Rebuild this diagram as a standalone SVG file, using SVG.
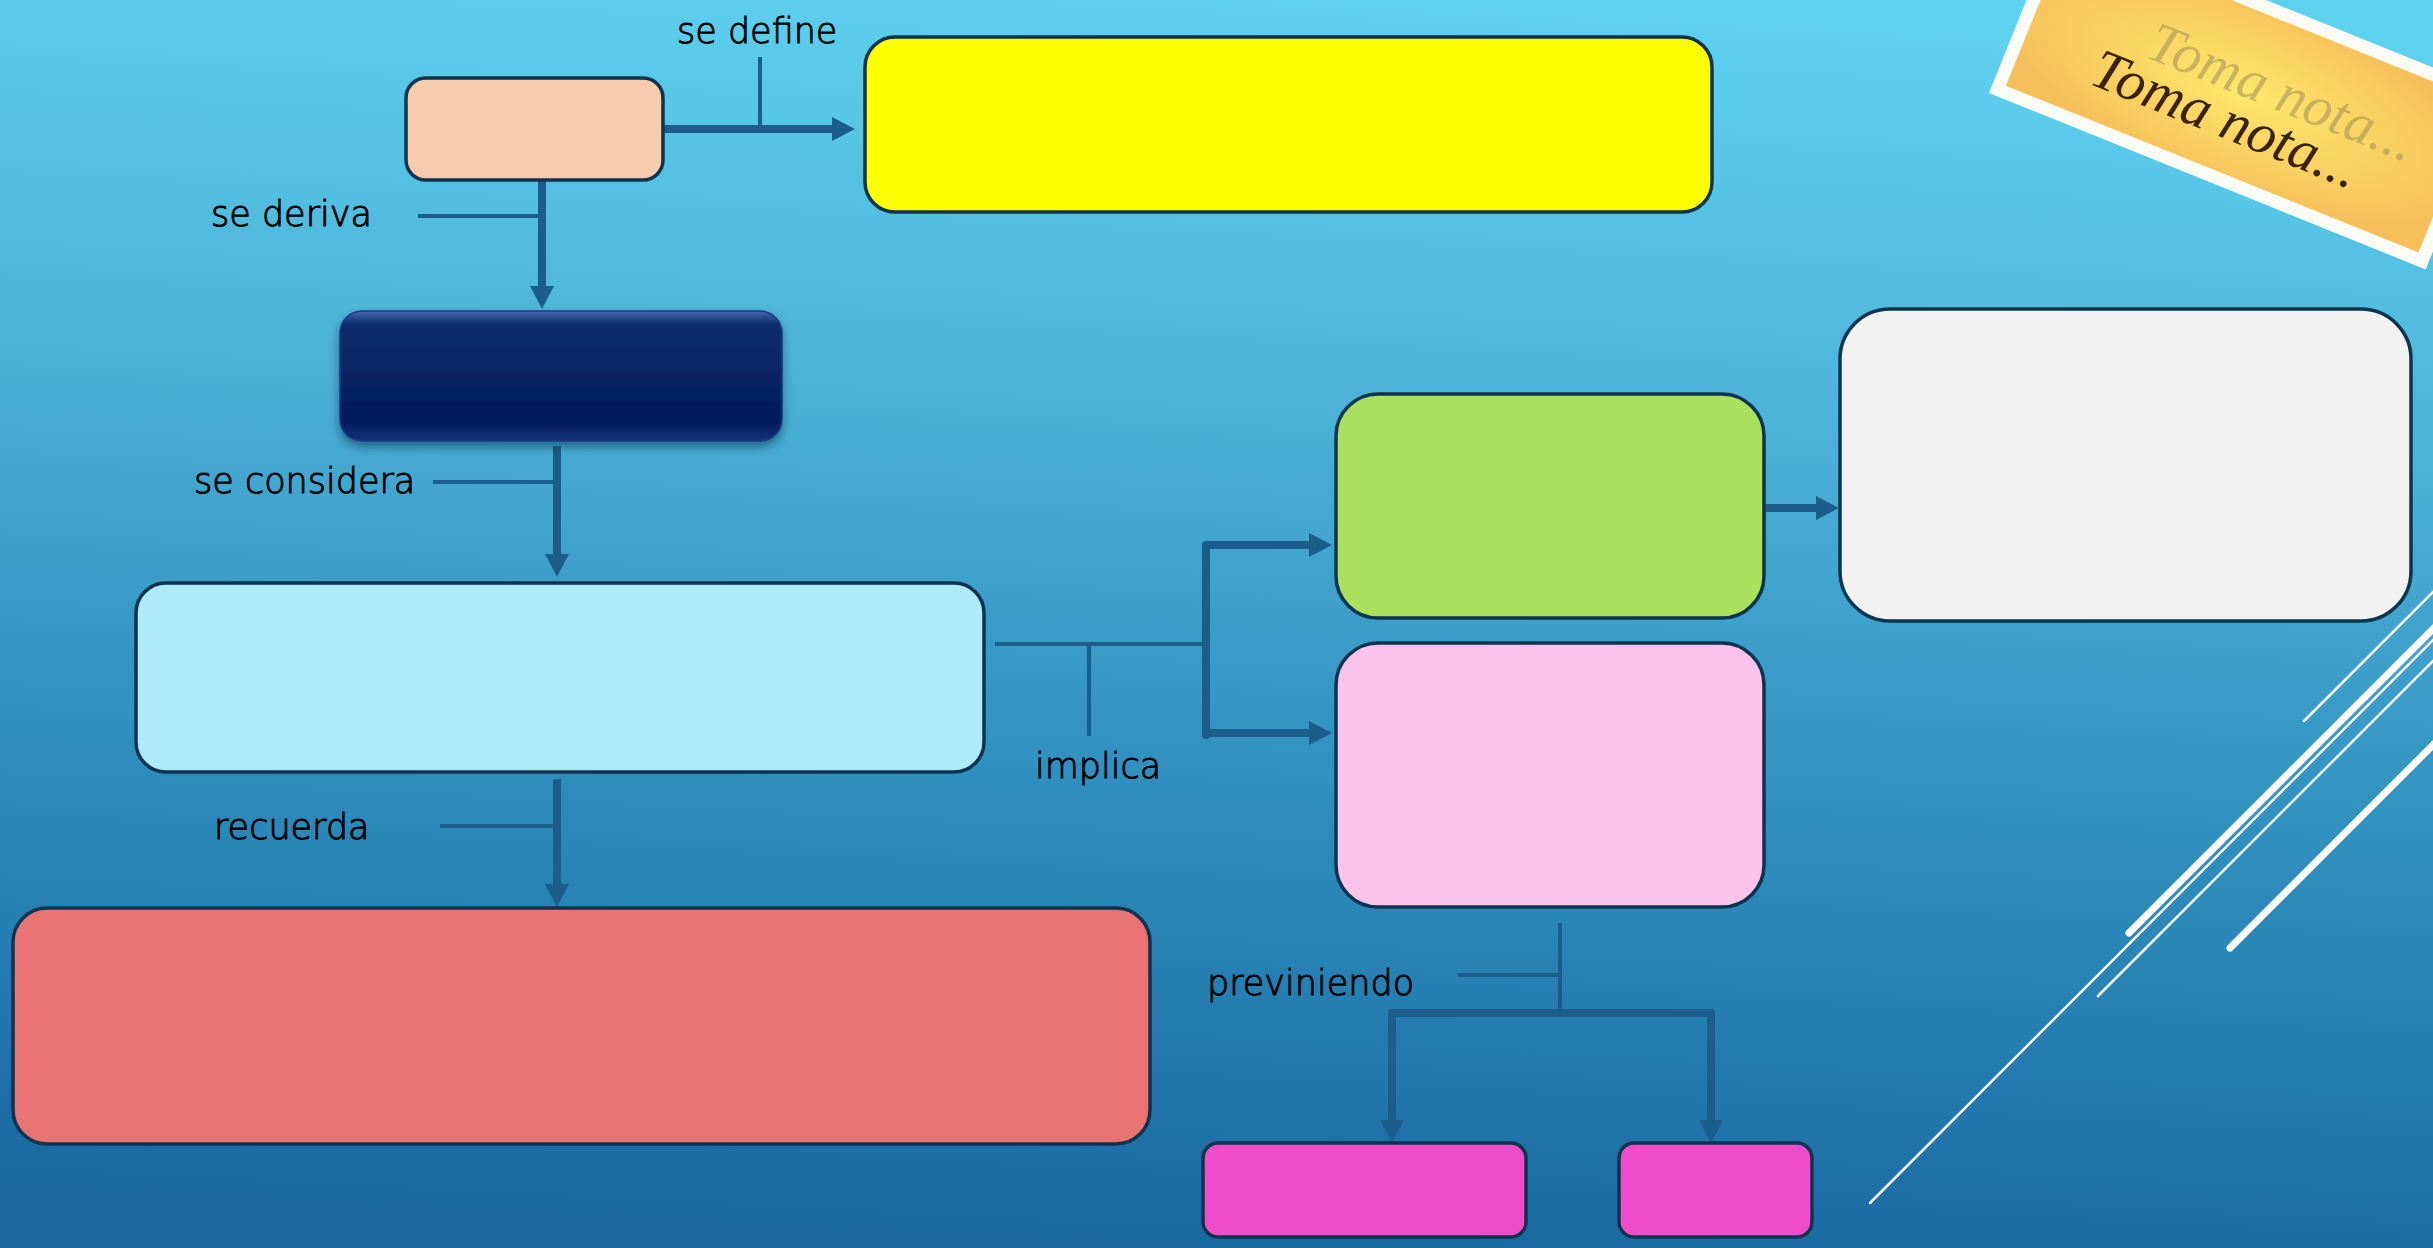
<svg xmlns="http://www.w3.org/2000/svg" width="2433" height="1248" viewBox="0 0 2433 1248">
<defs>
<linearGradient id="bg" x1="0.55" y1="0" x2="0.45" y2="1">
<stop offset="0" stop-color="#5ed1ef"/>
<stop offset="0.32" stop-color="#4cb2d7"/>
<stop offset="0.62" stop-color="#3090bf"/>
<stop offset="1" stop-color="#1968a0"/>
</linearGradient>
<linearGradient id="navy" x1="0" y1="0" x2="0" y2="1">
<stop offset="0" stop-color="#4868b2"/>
<stop offset="0.1" stop-color="#0e2d6c"/>
<stop offset="0.85" stop-color="#021c5c"/>
<stop offset="1" stop-color="#13337a"/>
</linearGradient>
<radialGradient id="note" cx="0.5" cy="0.5" r="0.6">
<stop offset="0" stop-color="#fde86c"/>
<stop offset="1" stop-color="#f5bf5a"/>
</radialGradient>
<filter id="shadow" x="-10%" y="-10%" width="120%" height="130%">
<feDropShadow dx="0" dy="5" stdDeviation="5" flood-color="#00203a" flood-opacity="0.5"/>
</filter>
<marker id="ah" markerUnits="userSpaceOnUse" markerWidth="24" markerHeight="24" refX="0" refY="12" orient="auto" viewBox="0 0 24 24">
<path d="M0,0 L23,12 L0,24 z" fill="#1d5d8c"/>
</marker>
</defs>
<style>
.node{stroke:#0c344f;stroke-width:3.5}
.lbl{font-family:"DejaVu Sans","Liberation Sans",sans-serif;font-size:35px;font-weight:200;fill:#000;stroke:#000;stroke-width:0.9}
.con{stroke:#1d5d8c;stroke-width:8;fill:none}
.tick{stroke:#1d5d8c;stroke-width:4;fill:none}
.deco{stroke:#ffffff;fill:none;stroke-linecap:round}
.script{font-family:"Liberation Serif",serif;font-style:italic;font-size:57px}
</style>
<rect x="0" y="0" width="2433" height="1248" fill="url(#bg)"/>
<g id="decoration">
<line class="deco" x1="2304" y1="721" x2="2440" y2="585" stroke-width="2.5"/>
<line class="deco" x1="2129" y1="933" x2="2440" y2="622" stroke-width="7"/>
<line class="deco" x1="1870" y1="1203" x2="2440" y2="633" stroke-width="2.5"/>
<line class="deco" x1="2098" y1="996" x2="2440" y2="654" stroke-width="2.5"/>
<line class="deco" x1="2230" y1="948" x2="2440" y2="738" stroke-width="7"/>
</g>
<g id="sticker" transform="translate(1989,93) rotate(22)">
<rect x="0" y="-190" width="471" height="190" fill="#fbfbf5"/>
<rect x="13" y="-177" width="445" height="164" fill="url(#note)"/>
<text class="script" x="130" y="-92" fill="#a89358" fill-opacity="0.6">Toma nota...</text>
<text class="script" x="88" y="-46" fill="#3a220c">Toma nota...</text>
</g>
<g id="connectors">
<line class="tick" x1="760" y1="57" x2="760" y2="129"/>
<line class="con" x1="662" y1="129" x2="832" y2="129" marker-end="url(#ah)"/>
<line class="tick" x1="418" y1="216" x2="538" y2="216"/>
<line class="con" x1="542" y1="181" x2="542" y2="286" marker-end="url(#ah)"/>
<line class="tick" x1="433" y1="482" x2="553" y2="482"/>
<line class="con" x1="557" y1="446" x2="557" y2="554" marker-end="url(#ah)"/>
<line class="tick" x1="440" y1="826" x2="557" y2="826"/>
<line class="con" x1="557" y1="779" x2="557" y2="884" marker-end="url(#ah)"/>
<line class="tick" x1="995" y1="644" x2="1206" y2="644"/>
<line class="tick" x1="1089" y1="644" x2="1089" y2="736"/>
<line class="con" x1="1206" y1="545" x2="1206" y2="735" stroke-linecap="round"/>
<line class="con" x1="1206" y1="545" x2="1309" y2="545" marker-end="url(#ah)"/>
<line class="con" x1="1206" y1="733" x2="1309" y2="733" marker-end="url(#ah)"/>
<line class="con" x1="1764" y1="508" x2="1816" y2="508" marker-end="url(#ah)"/>
<line class="tick" x1="1560" y1="923" x2="1560" y2="1013"/>
<line class="tick" x1="1458" y1="975" x2="1560" y2="975"/>
<line class="con" x1="1392" y1="1013" x2="1711" y2="1013" stroke-linecap="round"/>
<line class="con" x1="1392" y1="1013" x2="1392" y2="1120" marker-end="url(#ah)"/>
<line class="con" x1="1711" y1="1013" x2="1711" y2="1120" marker-end="url(#ah)"/>
<text class="lbl" x="677" y="43">se define</text>
<text class="lbl" x="211" y="226">se deriva</text>
<text class="lbl" x="194" y="493">se considera</text>
<text class="lbl" x="214" y="839">recuerda</text>
<text class="lbl" x="1035" y="778">implica</text>
<text class="lbl" x="1207" y="995">previniendo</text>
</g>
<g id="n-peach"><rect class="node" x="406" y="78" width="257" height="102" rx="20" fill="#f8cbad"/></g>
<g id="n-yellow"><rect class="node" x="865" y="37" width="847" height="175" rx="30" fill="#ffff00"/></g>
<g id="n-navy"><rect x="340" y="311" width="442" height="130" rx="22" fill="url(#navy)" stroke="#1a3a80" stroke-width="1.5" filter="url(#shadow)"/></g>
<g id="n-lightblue"><rect class="node" x="136" y="583" width="848" height="189" rx="30" fill="#aeeaf8"/></g>
<g id="n-salmon"><rect class="node" x="13" y="908" width="1137" height="236" rx="34" fill="#e97373"/></g>
<g id="n-green"><rect class="node" x="1336" y="394" width="428" height="224" rx="42" fill="#abe05f"/></g>
<g id="n-white"><rect class="node" x="1840" y="309" width="571" height="312" rx="50" fill="#f2f2f2"/></g>
<g id="n-pink"><rect class="node" x="1336" y="643" width="428" height="264" rx="42" fill="#fbc2ec"/></g>
<g id="n-magenta1"><rect class="node" x="1203" y="1143" width="323" height="94" rx="15" fill="#f04bc8"/></g>
<g id="n-magenta2"><rect class="node" x="1619" y="1143" width="193" height="94" rx="15" fill="#f04bc8"/></g>
</svg>
